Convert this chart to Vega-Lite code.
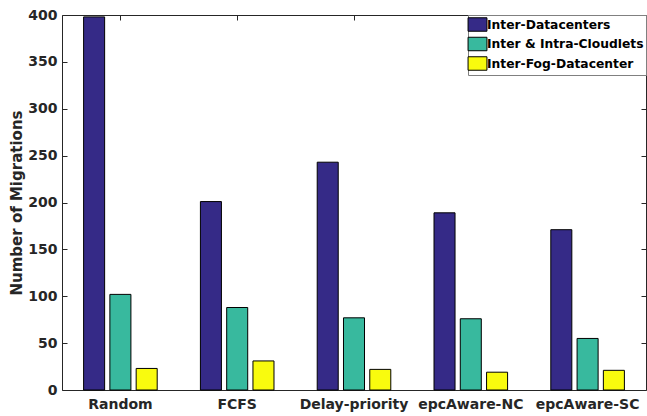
{
  "$schema": "https://vega.github.io/schema/vega-lite/v6.json",
  "width": 584,
  "height": 375,
  "autosize": {"type": "none"},
  "padding": {"left": 62, "top": 15, "right": 1, "bottom": 26},
  "background": "white",
  "config": {
    "font": "DejaVu Sans",
    "view": {"stroke": "#262626", "strokeWidth": 1},
    "axis": {"grid": false, "domain": false, "domainColor": "#262626", "ticks": true, "tickColor": "#262626", "tickWidth": 1, "tickSize": 5, "offset": -5, "labelColor": "#262626", "titleColor": "#262626", "labelFont": "DejaVu Sans", "labelFontWeight": "bold", "labelFontSize": 14, "titleFont": "DejaVu Sans", "titleFontWeight": "bold", "titleFontSize": 15}
  },
  "data": {"values": [
    {"method": "Random", "type": "Inter-Datacenters", "value": 398},
    {"method": "Random", "type": "Inter & Intra-Cloudlets", "value": 102},
    {"method": "Random", "type": "Inter-Fog-Datacenter", "value": 23},
    {"method": "FCFS", "type": "Inter-Datacenters", "value": 201},
    {"method": "FCFS", "type": "Inter & Intra-Cloudlets", "value": 88},
    {"method": "FCFS", "type": "Inter-Fog-Datacenter", "value": 31},
    {"method": "Delay-priority", "type": "Inter-Datacenters", "value": 243},
    {"method": "Delay-priority", "type": "Inter & Intra-Cloudlets", "value": 77},
    {"method": "Delay-priority", "type": "Inter-Fog-Datacenter", "value": 22},
    {"method": "epcAware-NC", "type": "Inter-Datacenters", "value": 189},
    {"method": "epcAware-NC", "type": "Inter & Intra-Cloudlets", "value": 76},
    {"method": "epcAware-NC", "type": "Inter-Fog-Datacenter", "value": 19},
    {"method": "epcAware-SC", "type": "Inter-Datacenters", "value": 171},
    {"method": "epcAware-SC", "type": "Inter & Intra-Cloudlets", "value": 55},
    {"method": "epcAware-SC", "type": "Inter-Fog-Datacenter", "value": 21}
  ]},
  "layer": [
    {
      "mark": {"type": "bar", "stroke": "black", "strokeWidth": 1},
      "encoding": {
        "x": {"field": "method", "type": "nominal", "sort": ["Random", "FCFS", "Delay-priority", "epcAware-NC", "epcAware-SC"],
              "scale": {"paddingInner": 0.37, "paddingOuter": 0.185},
              "axis": {"title": null, "labelAngle": 0, "orient": "bottom", "labelPadding": 7}},
        "xOffset": {"field": "type", "type": "nominal", "sort": ["Inter-Datacenters", "Inter & Intra-Cloudlets", "Inter-Fog-Datacenter"], "scale": {"paddingInner": 0.2, "paddingOuter": 0}},
        "y": {"field": "value", "type": "quantitative", "scale": {"domain": [0, 400], "nice": false},
              "axis": {"title": "Number of Migrations", "values": [0, 50, 100, 150, 200, 250, 300, 350, 400], "labelPadding": 5, "titlePadding": 3}},
        "color": {"field": "type", "type": "nominal", "sort": ["Inter-Datacenters", "Inter & Intra-Cloudlets", "Inter-Fog-Datacenter"],
                  "scale": {"range": ["#352a87", "#38b99e", "#f9fb0e"]},
                  "legend": {"title": null, "orient": "top-right", "offset": 0, "padding": 2, "strokeColor": "#808080", "fillColor": "white",
                             "symbolType": "M-1.4,-1H1.4V1H-1.4Z", "symbolSize": 182, "symbolStrokeColor": "black", "symbolStrokeWidth": 1, "symbolOpacity": 1,
                             "labelFont": "DejaVu Sans", "labelFontWeight": "bold", "labelFontSize": 12.3, "labelColor": "black", "rowPadding": 0.5, "labelOffset": 2}}
      }
    },
    {
      "mark": {"type": "bar", "opacity": 0},
      "encoding": {
        "x": {"field": "method", "type": "nominal", "sort": ["Random", "FCFS", "Delay-priority", "epcAware-NC", "epcAware-SC"],
              "axis": {"title": null, "orient": "top", "labels": false}},
        "y": {"field": "value", "type": "quantitative",
              "axis": {"title": null, "orient": "right", "labels": false, "values": [0, 50, 100, 150, 200, 250, 300, 350, 400]}}
      }
    }
  ],
  "resolve": {"axis": {"x": "independent", "y": "independent"}}
}
